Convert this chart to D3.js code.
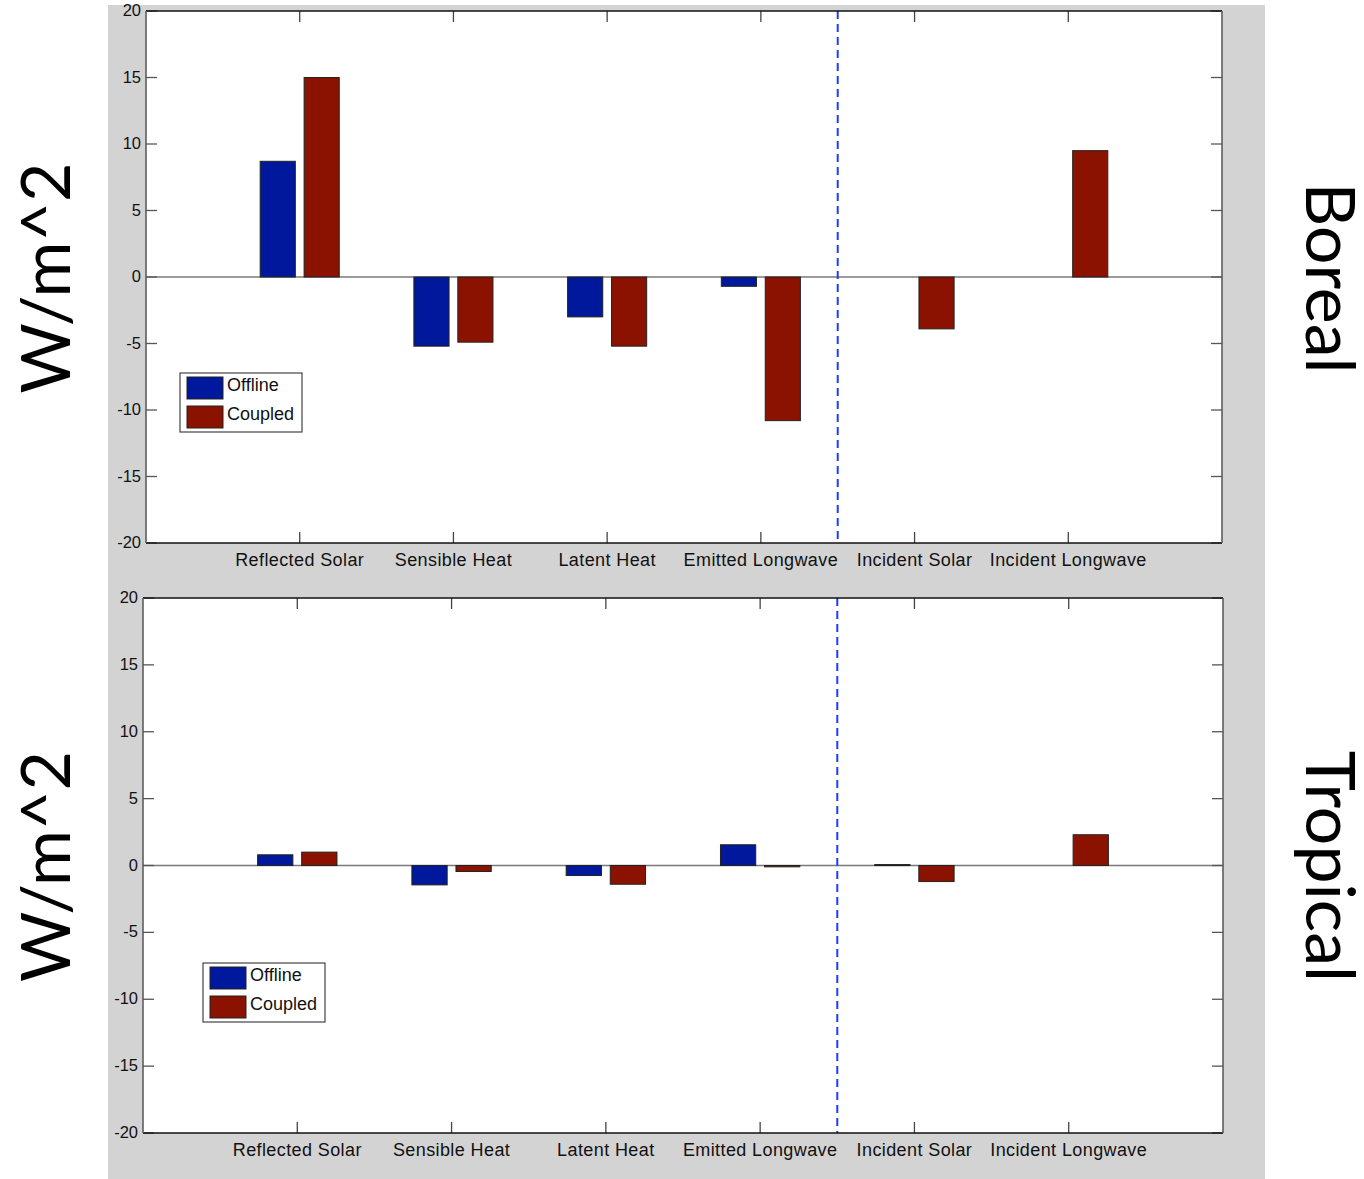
<!DOCTYPE html>
<html>
<head>
<meta charset="utf-8">
<script src="https://cdn.jsdelivr.net/npm/d3@7"></script>
<style>
  html, body { margin: 0; padding: 0; background: #ffffff; }
  svg { display: block; }
</style>
</head>
<body>
<svg id="chart" width="1364" height="1179"></svg>
<script>
// Energy-budget terms, W/m^2
const categories = ["Reflected Solar", "Sensible Heat", "Latent Heat", "Emitted Longwave", "Incident Solar", "Incident Longwave"];
const seriesNames = ["Offline", "Coupled"];
const borealOffline = [8.7, -5.2, -3.0, -0.7, 0, 0];
const borealCoupled = [15.0, -4.9, -5.2, -10.8, -3.9, 9.5];
const tropicalOffline = [0.8, -1.45, -0.75, 1.55, 0.07, 0];
const tropicalCoupled = [1.0, -0.45, -1.4, -0.1, -1.2, 2.3];
const yTicks = [-20, -15, -10, -5, 0, 5, 10, 15, 20];
const panelTitles = ["Boreal", "Tropical"];
const yAxisTitle = "W/m^2";

const colors = ["#00189c", "#8c1200"];
const labelFont = "Liberation Sans, Arial, sans-serif";

const svg = d3.select("#chart");

// grey figure background
svg.append("rect").attr("x", 108).attr("y", 5).attr("width", 1157).attr("height", 1174).attr("fill", "#d3d3d3");

const panels = [
  { title: panelTitles[0], data: [borealOffline, borealCoupled], left: 146, right: 1222, top: 11, bottom: 543, legend: { x: 180, y: 373 } },
  { title: panelTitles[1], data: [tropicalOffline, tropicalCoupled], left: 143, right: 1223, top: 598, bottom: 1133, legend: { x: 203, y: 963 } }
];

// grouped bar geometry (two series per group)
const groupWidth = 2 / 3.5;
const barWidth = groupWidth / 2 * 0.8;
const offsets = [-groupWidth / 4, groupWidth / 4];

panels.forEach(p => {
  const x = d3.scaleLinear().domain([0, categories.length + 1]).range([p.left, p.right]);
  const y = d3.scaleLinear().domain([-20, 20]).range([p.bottom, p.top]);
  const g = svg.append("g");

  g.append("rect").attr("x", p.left).attr("y", p.top)
    .attr("width", p.right - p.left).attr("height", p.bottom - p.top).attr("fill", "#ffffff");

  // zero line
  g.append("line").attr("x1", p.left).attr("x2", p.right)
    .attr("y1", y(0)).attr("y2", y(0)).attr("stroke", "#7a7a7a").attr("stroke-width", 1.3);

  // bars
  p.data.forEach((vals, si) => {
    g.selectAll(null).data(vals.map((v, i) => ({ v, i })).filter(d => d.v !== 0))
      .enter().append("rect")
      .attr("x", d => x(d.i + 1 + offsets[si] - barWidth / 2))
      .attr("width", d => x(barWidth) - x(0))
      .attr("y", d => Math.min(y(d.v), y(0)))
      .attr("height", d => Math.max(Math.abs(y(d.v) - y(0)), 1))
      .attr("fill", colors[si])
      .attr("stroke", "#222222").attr("stroke-width", 1);
  });

  // separator between local and incident terms
  g.append("line").attr("x1", x(4.5)).attr("x2", x(4.5))
    .attr("y1", p.top).attr("y2", p.bottom)
    .attr("stroke", "#1f3cff").attr("stroke-width", 2).attr("stroke-dasharray", "8,5");

  // inward ticks (x at bottom and top, y at left and right)
  const tl = 11;
  categories.forEach((c, i) => {
    const cx = x(i + 1);
    g.append("line").attr("x1", cx).attr("x2", cx).attr("y1", p.bottom).attr("y2", p.bottom - tl).attr("stroke", "#444").attr("stroke-width", 1.3);
    g.append("line").attr("x1", cx).attr("x2", cx).attr("y1", p.top).attr("y2", p.top + tl).attr("stroke", "#444").attr("stroke-width", 1.3);
    g.append("text").attr("x", cx).attr("y", p.bottom + 23)
      .attr("text-anchor", "middle").attr("font-family", labelFont)
      .attr("font-size", 18).attr("letter-spacing", 0.4).attr("fill", "#111").text(c);
  });
  yTicks.forEach(t => {
    const ty = y(t);
    g.append("line").attr("x1", p.left).attr("x2", p.left + tl).attr("y1", ty).attr("y2", ty).attr("stroke", "#555").attr("stroke-width", 1.3);
    g.append("line").attr("x1", p.right).attr("x2", p.right - tl).attr("y1", ty).attr("y2", ty).attr("stroke", "#555").attr("stroke-width", 1.3);
    g.append("text").attr("x", p.left - 5).attr("y", ty + 5)
      .attr("text-anchor", "end").attr("font-family", labelFont)
      .attr("font-size", 16.5).attr("fill", "#111").text(t);
  });

  // frame
  g.append("line").attr("x1", p.left).attr("x2", p.right).attr("y1", p.top).attr("y2", p.top).attr("stroke", "#111").attr("stroke-width", 1.5);
  g.append("line").attr("x1", p.left).attr("x2", p.right).attr("y1", p.bottom).attr("y2", p.bottom).attr("stroke", "#111").attr("stroke-width", 1.5);
  g.append("line").attr("x1", p.left).attr("x2", p.left).attr("y1", p.top).attr("y2", p.bottom).attr("stroke", "#555").attr("stroke-width", 1.5);
  g.append("line").attr("x1", p.right).attr("x2", p.right).attr("y1", p.top).attr("y2", p.bottom).attr("stroke", "#555").attr("stroke-width", 1.5);

  // legend
  const lg = g.append("g").attr("transform", `translate(${p.legend.x},${p.legend.y})`);
  lg.append("rect").attr("width", 122).attr("height", 59).attr("fill", "#ffffff").attr("stroke", "#444").attr("stroke-width", 1.2);
  seriesNames.forEach((s, i) => {
    lg.append("rect").attr("x", 7).attr("y", 4 + i * 29).attr("width", 36).attr("height", 22)
      .attr("fill", colors[i]).attr("stroke", "#222").attr("stroke-width", 1);
    lg.append("text").attr("x", 47).attr("y", 18 + i * 29)
      .attr("font-family", labelFont).attr("font-size", 18).attr("fill", "#111").text(s);
  });

  // panel annotations
  const cy = (p.top + p.bottom) / 2;
  svg.append("text").attr("transform", `translate(70,${cy + 1}) rotate(-90)`)
    .attr("text-anchor", "middle").attr("font-family", "Lato, sans-serif")
    .attr("font-size", 68).attr("fill", "#000").text(yAxisTitle);
  svg.append("text").attr("transform", `translate(1306,${cy + 1}) rotate(90)`)
    .attr("text-anchor", "middle").attr("font-family", "Lato, sans-serif")
    .attr("font-size", 68).attr("fill", "#000").text(p.title);
});
</script>
</body>
</html>
